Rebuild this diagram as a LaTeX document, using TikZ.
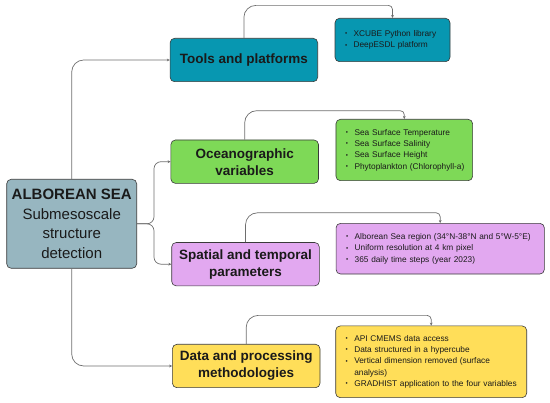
\documentclass[tikz,border=0pt]{standalone}
\usepackage{fontspec}
\setmainfont{Liberation Sans}
\usetikzlibrary{arrows.meta}
\definecolor{cmain}{HTML}{97B6C0}
\definecolor{ctools}{HTML}{0797B1}
\definecolor{cocean}{HTML}{7ED957}
\definecolor{cspat}{HTML}{E2A8F0}
\definecolor{cdata}{HTML}{FFDE59}
\definecolor{cline}{HTML}{6E6E6E}
\definecolor{cedge}{HTML}{3A3A3A}
\definecolor{ctext}{HTML}{1A1A1A}
\newcommand{\bitem}[1]{\mbox{\makebox[8.6pt][l]{\raisebox{0.15ex}{\scalebox{0.75}{\textbullet}}}#1}}
\newcommand{\bcont}[1]{\mbox{\hspace*{8.6pt}#1}}
\tikzset{
  box/.style={draw=cedge, line width=0.6pt, rounded corners=4.5pt, inner sep=0pt, text=ctext, align=center},
  mainbox/.style={box, fill=cmain, minimum width=130pt, minimum height=89pt,
    font=\fontsize{15}{19.8}\selectfont},
  titlebox/.style={box, minimum width=147.6pt, minimum height=43.4pt,
    font=\fontsize{13.5}{17}\selectfont\bfseries},
  detailbox/.style={box, align=left, inner xsep=10pt, inner ysep=0pt,
    font=\fontsize{8.3}{11.3}\selectfont},
  conn/.style={draw=cline, line width=0.7pt, -{Stealth[length=3pt,width=2.8pt]}}
}
\begin{document}
\begin{tikzpicture}[x=1pt,y=-1pt]
\useasboundingbox (0,0) rectangle (550,403);
% main
\node[mainbox] (main) at (71.7,223.8) {\textbf{ALBOREAN SEA}\\Submesoscale\\structure\\detection};
% titles
\node[titlebox, fill=ctools] (tools) at (243.9,60) {Tools and platforms};
\node[titlebox, fill=cocean] (ocean) at (244.7,161.7) {Oceanographic\\variables};
\node[titlebox, fill=cspat] (spat) at (245.5,264.2) {Spatial and temporal\\parameters};
\node[titlebox, fill=cdata] (data) at (246.2,366) {Data and processing\\methodologies};
% details
\node[detailbox, fill=ctools, text width=95pt, minimum height=43.4pt] (td) at (392.5,40)
  {\bitem{XCUBE Python library}\\\bitem{DeepESDL platform}};
\node[detailbox, fill=cocean, text width=116.7pt, minimum height=61.4pt] (od) at (404.3,150)
  {\bitem{Sea Surface Temperature}\\\bitem{Sea Surface Salinity}\\\bitem{Sea Surface Height}\\\bitem{Phytoplankton (Chlorophyll-a)}};
\node[detailbox, fill=cspat, text width=188.3pt, minimum height=50.7pt] (sd) at (440.2,248.7)
  {\bitem{Alborean Sea region (34°N-38°N and 5°W-5°E)}\\\bitem{Uniform resolution at 4 km pixel}\\\bitem{365 daily time steps (year 2023)}};
\node[detailbox, fill=cdata, text width=171pt, minimum height=71.7pt] (dd) at (431.2,361.8)
  {\bitem{API CMEMS data access}\\\bitem{Data structured in a hypercube}\\\bitem{Vertical dimension removed (surface}\\\bcont{analysis)}\\\bitem{GRADHIST application to the four variables}};
% main connectors
\draw[conn, rounded corners=12pt] (main.north) |- (tools.west);
\draw[conn, rounded corners=12pt] (main.south) |- (data.west);
\draw[conn, rounded corners=7pt] (main.east) -- (154,223.8) |- (ocean.west);
\draw[conn, rounded corners=7pt] (main.east) -- (154,223.8) |- (spat.west);
% detail connectors
\draw[conn] (tools.north) [rounded corners=12pt] -- ++(0,-32.6) [rounded corners=4pt] -| (td.north);
\draw[conn] (ocean.north) [rounded corners=12pt] -- ++(0,-29) [rounded corners=4pt] -| (od.north);
\draw[conn] (spat.north) [rounded corners=12pt] -- ++(0,-29.4) [rounded corners=4pt] -| (sd.north);
\draw[conn] (data.north) [rounded corners=12pt] -- ++(0,-28.6) [rounded corners=4pt] -| (dd.north);
\end{tikzpicture}
\end{document}
